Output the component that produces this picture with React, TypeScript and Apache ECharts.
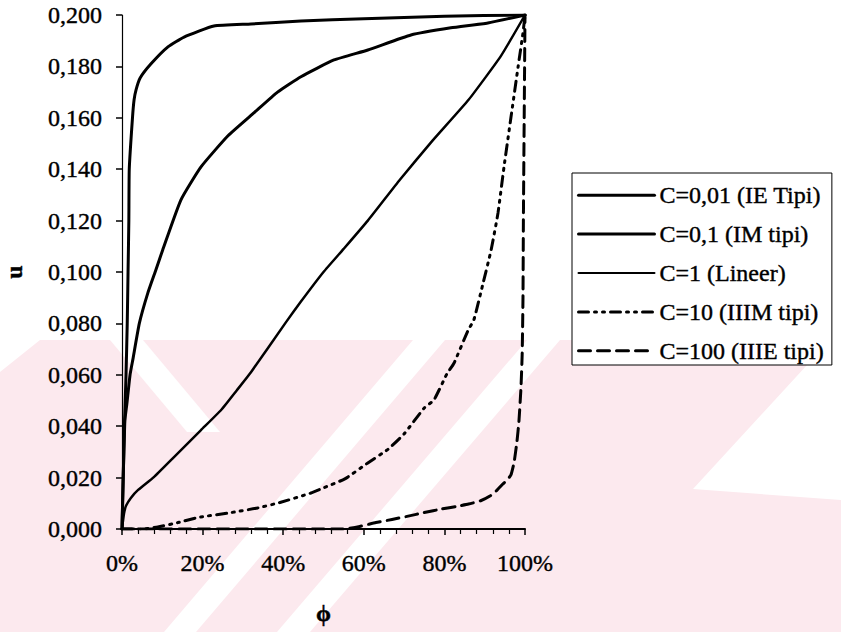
import React, { useEffect, useRef } from 'react';
import * as echarts from 'echarts';

// ---- data (x in %, y = u) ----
const seriesNames = ['C=0,01 (IE Tipi)', 'C=0,1 (IM tipi)', 'C=1 (Lineer)', 'C=10 (IIIM tipi)', 'C=100 (IIIE tipi)'];

const ieX = [0, 0.3, 0.6, 1.0, 1.3, 1.5, 1.7, 1.8, 2.6, 3.0, 3.5, 4.5, 7.2, 11.4, 15.4, 22.8, 32, 44.4, 60, 80, 100];
const ieY = [0, 0.02, 0.04, 0.06, 0.08, 0.1, 0.12, 0.14, 0.16, 0.167, 0.171, 0.1755, 0.181, 0.1876, 0.1914, 0.1957, 0.1965, 0.1977, 0.1985, 0.1995, 0.2];

const imX = [0, 0.3, 0.7, 1.2, 2.0, 2.7, 4.3, 6.4, 8.4, 10.1, 14.6, 19.6, 26.3, 32.8, 38.6, 44.4, 52.6, 61, 71.7, 81.6, 90.8, 100];
const imY = [0, 0.02, 0.042, 0.0486, 0.06, 0.066, 0.08, 0.0918, 0.1008, 0.1086, 0.128, 0.1409, 0.153, 0.162, 0.17, 0.176, 0.1825, 0.1864, 0.1922, 0.195, 0.1969, 0.2];

const linX = [0, 0.5, 1.0, 2.2, 4.0, 7.9, 12.9, 19.6, 24.6, 28.5, 32, 40.7, 44.4, 50, 55, 61, 69, 77, 86, 94, 100];
const linY = [0, 0.006, 0.009, 0.0121, 0.0152, 0.0202, 0.028, 0.0385, 0.0463, 0.054, 0.061, 0.0805, 0.0885, 0.1, 0.109, 0.12, 0.136, 0.151, 0.167, 0.184, 0.2];

const c10X = [0, 5, 8.9, 13.9, 18.9, 26.3, 33.7, 39.2, 46.9, 50, 55.3, 61, 66, 70, 75, 77.4, 80.6, 82.4, 85.9, 87.3, 89.5, 91.6, 93.3, 94.8, 96.5, 98.3, 99.5, 100];
const c10Y = [0, 0, 0.0008, 0.0025, 0.0045, 0.0062, 0.0082, 0.0103, 0.014, 0.016, 0.0195, 0.0257, 0.031, 0.037, 0.0471, 0.0502, 0.0603, 0.0646, 0.0774, 0.0813, 0.095, 0.1086, 0.123, 0.141, 0.16, 0.18, 0.193, 0.2];

const c100X = [0, 55, 59, 63, 67, 71, 75, 79.4, 83, 86, 89, 91.3, 93, 94.5, 95.5, 96.5, 97.3, 98, 98.5, 99, 99.3, 99.5, 99.6, 99.8, 100];
const c100Y = [0, 0, 0.001, 0.0025, 0.0037, 0.005, 0.0064, 0.0078, 0.0088, 0.0097, 0.011, 0.0128, 0.015, 0.0175, 0.019, 0.021, 0.026, 0.034, 0.042, 0.055, 0.068, 0.09, 0.12, 0.16, 0.2];

const xTickValues = [0, 20, 40, 60, 80, 100];
const yTickValues = [0, 0.02, 0.04, 0.06, 0.08, 0.1, 0.12, 0.14, 0.16, 0.18, 0.2];

const FONT = "'Liberation Serif', 'DejaVu Serif', 'Times New Roman', serif";
const PINK = '#fce9ee';

const zip = (xs: number[], ys: number[]) => xs.map((x, i) => [x, ys[i]]);

export default function App() {
  const ref = useRef<HTMLDivElement>(null);
  useEffect(() => {
    if (!ref.current) return;
    const chart = echarts.init(ref.current, undefined, { renderer: 'svg' });

    const lineSeries = (name: string, data: number[][], width: number, type: any) => ({
      name,
      type: 'line',
      data,
      symbol: 'none',
      showSymbol: false,
      smooth: 0.15,
      lineStyle: { color: '#000', width, type, cap: 'round', join: 'round' },
      itemStyle: { color: '#000' },
      z: 3,
    });

    const stripe = (pts: number[][], fill: string) => ({
      type: 'polygon',
      silent: true,
      z: -10,
      shape: { points: pts },
      style: { fill },
    });

    const txt = { color: '#000', fontFamily: FONT, textBorderColor: '#000', textBorderWidth: 0.4 };

    const option: any = {
      animation: false,
      backgroundColor: '#fff',
      textStyle: { fontFamily: FONT },
      graphic: [
        stripe([[40, 340], [841, 340], [841, 632], [0, 632], [0, 372]], PINK),
        stripe([[110, 340], [143, 340], [220, 432], [187, 432]], '#fff'),
        stripe([[413, 340], [445, 340], [196, 632], [164, 632]], '#fff'),
        stripe([[527, 340], [560, 340], [310, 632], [277, 632]], '#fff'),
        stripe([[830, 340], [841, 340], [841, 500], [693, 489]], '#fff'),
      ],
      grid: { left: 122, top: 15, width: 403, height: 514, containLabel: false },
      legend: {
        orient: 'vertical',
        left: 572,
        top: 173,
        padding: [10, 8, 2, 5],
        itemGap: 14.5,
        itemWidth: 76,
        itemHeight: 14,
        borderColor: '#000',
        borderWidth: 1,
        backgroundColor: '#fff',
        itemStyle: { color: 'transparent', borderWidth: 0, opacity: 0 },
        textStyle: { ...txt, fontSize: 24 },
        data: [
          { name: seriesNames[0], lineStyle: { width: 3 } },
          { name: seriesNames[1], lineStyle: { width: 3 } },
          { name: seriesNames[2], lineStyle: { width: 2 } },
          { name: seriesNames[3], lineStyle: { width: 3 } },
          { name: seriesNames[4], lineStyle: { width: 3 } },
        ],
      },
      xAxis: {
        type: 'value',
        min: 0,
        max: 100,
        interval: 20,
        name: 'ϕ',
        nameLocation: 'middle',
        nameGap: 72,
        nameTextStyle: { ...txt, fontSize: 24, fontWeight: 'bold' },
        axisLine: { show: true, onZero: false, lineStyle: { color: '#000', width: 2 } },
        axisTick: { show: true, inside: false, length: 6, lineStyle: { color: '#000', width: 1.5 } },
        minorTick: { show: true, splitNumber: 5, length: 5, lineStyle: { color: '#000', width: 1.2 } },
        splitLine: { show: false },
        axisLabel: {
          ...txt,
          fontSize: 24,
          margin: 22,
          formatter: (v: number) => (xTickValues.includes(v) ? v + '%' : ''),
        },
      },
      yAxis: {
        type: 'value',
        min: 0,
        max: 0.2,
        interval: 0.02,
        name: 'u',
        nameLocation: 'middle',
        nameRotate: 90,
        nameGap: 96,
        nameTextStyle: { ...txt, fontSize: 24, fontWeight: 'bold' },
        axisLine: { show: true, onZero: false, lineStyle: { color: '#000', width: 1.2 } },
        axisTick: { show: true, inside: false, length: 6, lineStyle: { color: '#000', width: 1.5 } },
        splitLine: { show: false },
        axisLabel: {
          ...txt,
          fontSize: 24,
          margin: 20,
          formatter: (v: number) => {
            const m = yTickValues.find((t) => Math.abs(t - v) < 1e-9);
            return m === undefined ? '' : m.toFixed(3).replace('.', ',');
          },
        },
      },
      series: [
        lineSeries(seriesNames[0], zip(ieX, ieY), 3, 'solid'),
        lineSeries(seriesNames[1], zip(imX, imY), 3, 'solid'),
        lineSeries(seriesNames[2], zip(linX, linY), 2.5, 'solid'),
        lineSeries(seriesNames[3], zip(c10X, c10Y), 3, [10, 6, 2, 6, 2, 6]),
        lineSeries(seriesNames[4], zip(c100X, c100Y), 3, [12, 7]),
      ],
    };
    chart.setOption(option);
    return () => chart.dispose();
  }, []);
  return <div ref={ref} style={{ width: 841, height: 632, position: 'absolute', left: 0, top: 0 }} />;
}
